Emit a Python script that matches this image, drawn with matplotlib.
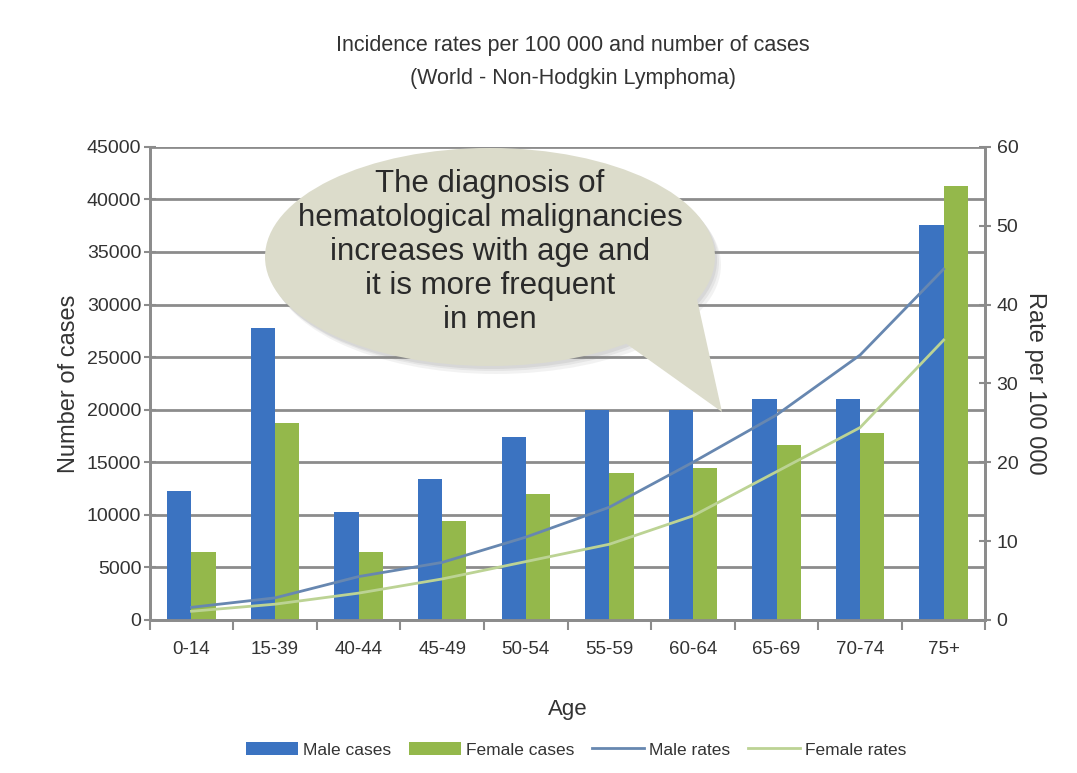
import matplotlib
matplotlib.use("Agg")
import matplotlib.pyplot as plt
from matplotlib.patches import Ellipse, Polygon
from matplotlib import font_manager
import numpy as np

ages = ["0-14", "15-39", "40-44", "45-49", "50-54", "55-59", "60-64", "65-69", "70-74", "75+"]
male_cases = [12300, 27800, 10300, 13400, 17400, 20000, 20000, 21000, 21000, 37600]
female_cases = [6500, 18700, 6500, 9400, 12000, 14000, 14500, 16600, 17800, 41300]
male_rates = [1.6, 2.8, 5.5, 7.3, 10.5, 14.3, 20.0, 26.0, 33.6, 44.5]
female_rates = [1.1, 2.0, 3.4, 5.2, 7.4, 9.6, 13.2, 18.8, 24.4, 35.5]

left_ticks = list(range(0, 45001, 5000))
right_ticks = list(range(0, 61, 10))

names = {f.name for f in font_manager.fontManager.ttflist}
fam = ["Liberation Sans Narrow", "Liberation Sans", "DejaVu Sans"]
fam = [f for f in fam if f in names] or ["DejaVu Sans"]
plt.rcParams['font.family'] = fam

BLUE = "#3b73c1"
GREEN = "#94b84b"
MLINE = "#6787b0"
FLINE = "#bcd394"
GRID = "#8c8c8c"
TXT = "#333333"

fig = plt.figure(figsize=(10.77, 7.73), dpi=100)
ax = fig.add_axes([0.139, 0.198, 0.776, 0.612])
ax2 = ax.twinx()

x = np.arange(len(ages))
w = 0.29
ax.bar(x - w / 2, male_cases, w, color=BLUE, label="Male cases", zorder=3)
ax.bar(x + w / 2, female_cases, w, color=GREEN, label="Female cases", zorder=3)
ax2.plot(x, male_rates, color=MLINE, lw=2, label="Male rates", zorder=4)
ax2.plot(x, female_rates, color=FLINE, lw=2, label="Female rates", zorder=4)

ax.set_xlim(-0.5, len(ages) - 0.5)
ax.set_ylim(0, 45000)
ax2.set_ylim(0, 60)
ax.set_yticks(left_ticks)
ax2.set_yticks(right_ticks)
ax.set_xticks(x)
ax.set_xticklabels(ages)
ax.set_xticks(np.arange(len(ages) + 1) - 0.5, minor=True)
ax.tick_params(axis='x', which='major', length=0, pad=15, labelsize=13.5, colors=TXT)
ax.tick_params(axis='x', which='minor', length=7, width=1.5, color=GRID, direction='out')
ax.tick_params(axis='y', length=8, width=1.5, color=GRID, direction='inout', labelsize=14, labelcolor=TXT, pad=2)
ax2.tick_params(axis='y', length=8, width=1.5, color=GRID, direction='inout', labelsize=14, labelcolor=TXT, pad=4)

ax.yaxis.grid(True, color=GRID, lw=2, zorder=0)
ax.set_axisbelow(True)
for a in (ax, ax2):
    a.spines['top'].set_visible(False)
    for s in ('left', 'right', 'bottom'):
        a.spines[s].set_color(GRID)
        a.spines[s].set_linewidth(2)

ax.set_ylabel("Number of cases", fontsize=17, color=TXT, labelpad=5)
ax2.set_ylabel("Rate per 100 000", fontsize=17, color=TXT, rotation=270, labelpad=20)
ax.set_xlabel("Age", fontsize=16, color=TXT, labelpad=30)

fig.text(0.532, 0.941, "Incidence rates per 100 000 and number of cases", ha='center', va='center', fontsize=15.5, color=TXT)
fig.text(0.532, 0.899, "(World - Non-Hodgkin Lymphoma)", ha='center', va='center', fontsize=15.5, color=TXT)

# callout bubble (decoration, figure pixel coords)
H = 773
def fp(px, py):
    return (px / 1077, 1 - py / H)

bub = "#dcdccb"
for dx, dy, al in [(6, 8, 0.10), (4, 5, 0.12), (2, 3, 0.15)]:
    sh = Ellipse(fp(490 + dx, 257 + dy), 450 / 1077, 218 / H, transform=fig.transFigure,
                 facecolor="#888888", alpha=al, edgecolor='none', zorder=10)
    fig.patches.append(sh)
tail = Polygon([fp(600, 325), fp(695, 290), fp(722, 412)], closed=True,
               transform=fig.transFigure, facecolor=bub, edgecolor='none', zorder=11)
fig.patches.append(tail)
ell = Ellipse(fp(490, 257), 450 / 1077, 218 / H, transform=fig.transFigure,
              facecolor=bub, edgecolor='none', zorder=11)
fig.patches.append(ell)
fig.text(490 / 1077, 1 - 252 / H,
         "The diagnosis of\nhematological malignancies\nincreases with age and\nit is more frequent\nin men",
         ha='center', va='center', fontsize=22.5, color="#2a2a2a", linespacing=1.18, zorder=12)

h1, l1 = ax.get_legend_handles_labels()
h2, l2 = ax2.get_legend_handles_labels()
fig.legend(h1 + h2, l1 + l2, loc='center', bbox_to_anchor=(0.535, 0.03), ncol=4, frameon=False,
           fontsize=12.5, handlelength=3.0, handleheight=0.8, columnspacing=1.0, handletextpad=0.3,
           labelcolor=TXT)

fig.savefig("out.png", dpi=100)
